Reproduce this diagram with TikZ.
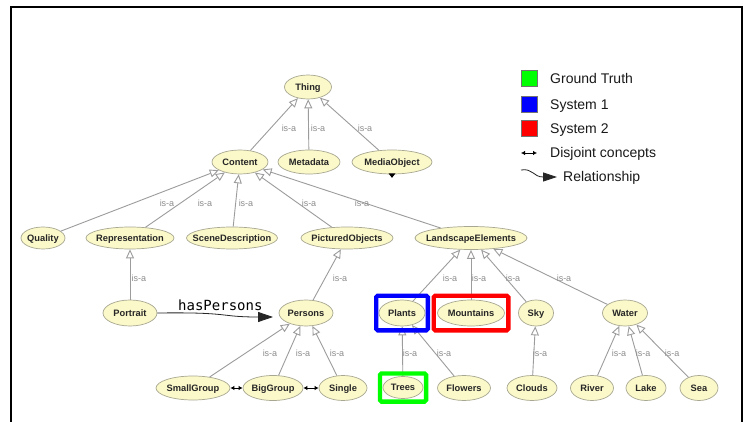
\documentclass[tikz,border=0pt]{standalone}
\usepackage{fontspec}
\setmainfont{Liberation Sans}
\newfontfamily\monof{DejaVu Sans Mono}
\usetikzlibrary{arrows.meta,shapes.geometric,fit}
\definecolor{cream}{HTML}{FBF8C9}
\definecolor{rim}{HTML}{A8A892}
\definecolor{edgegray}{HTML}{9C9C9C}
\definecolor{labgray}{HTML}{8C8C8C}
\definecolor{gtgreen}{HTML}{00FF00}
\definecolor{sysblue}{HTML}{0000FF}
\definecolor{sysred}{HTML}{FF0000}
\newcommand{\nm}[1]{\makebox[0pt][c]{\raisebox{-.36em}[0pt][0pt]{#1}}}
\begin{document}
\begin{tikzpicture}[x=1pt,y=-1pt,
  cls/.style={ellipse, draw=rim, fill=cream, line width=0.7pt, inner sep=0pt,
    minimum height=24pt, text=black!85, font=\fontsize{9.3}{10}\selectfont\bfseries},
  isa/.style={draw=edgegray, line width=0.9pt,
    -{Triangle[fill=white,length=9pt,width=8pt]}},
  lab/.style={text=labgray, font=\fontsize{9}{10}\selectfont, inner sep=0pt},
  disj/.style={{Latex[length=4pt,width=4.5pt]}-{Latex[length=4pt,width=4.5pt]}, line width=0.8pt, black},
  rel/.style={-{Triangle[length=15pt,width=10pt]}, line width=0.8pt, black!85},
  legtext/.style={font=\fontsize{14}{16}\selectfont, anchor=base west, inner sep=0pt, text=black!90},
  sq/.style={draw=black!55, line width=0.5pt, minimum size=16pt, inner sep=0pt},
  hbox/.style={line width=4.3pt, rounded corners=1.5pt, inner sep=0pt}
]
\useasboundingbox (0,0) rectangle (750,422);
\fill[white] (0,0) rectangle (750,422);
% frame
\draw[line width=1.6pt] (11,426) -- (11,7) -- (742,7) -- (742,426);

% nodes
\node[cls, minimum width=47pt] (Thing) at (308,87) {\nm{Thing}};
\node[cls, minimum width=56pt] (Content) at (240,162) {\nm{Content}};
\node[cls, minimum width=62pt] (Metadata) at (309,162) {\nm{Metadata}};
\node[cls, minimum width=80pt] (MediaObject) at (392,162) {\nm{MediaObject}};
\node[cls, minimum width=44pt, minimum height=22pt] (Quality) at (43,238) {\nm{Quality}};
\node[cls, minimum width=88pt, minimum height=22pt] (Representation) at (130,238) {\nm{Representation}};
\node[cls, minimum width=91pt, minimum height=22pt] (SceneDescription) at (232,238) {\nm{SceneDescription}};
\node[cls, minimum width=92pt, minimum height=22pt] (PicturedObjects) at (347,238) {\nm{PicturedObjects}};
\node[cls, minimum width=112pt, minimum height=23pt] (LandscapeElements) at (471,238) {\nm{LandscapeElements}};
\node[cls, minimum width=54pt, minimum height=26pt] (Portrait) at (130,313) {\nm{Portrait}};
\node[cls, minimum width=54pt, minimum height=26pt] (Persons) at (306,313) {\nm{Persons}};
\node[cls, minimum width=46pt, minimum height=26pt] (Plants) at (402,313) {\nm{Plants}};
\node[cls, minimum width=67pt, minimum height=26pt] (Mountains) at (471,313) {\nm{Mountains}};
\node[cls, minimum width=35pt, minimum height=26pt] (Sky) at (536,313) {\nm{Sky}};
\node[cls, minimum width=45pt, minimum height=26pt] (Water) at (625,313) {\nm{Water}};
\node[cls, minimum width=74pt, minimum height=24pt] (SmallGroup) at (193,388) {\nm{SmallGroup}};
\node[cls, minimum width=60pt, minimum height=25pt] (BigGroup) at (273,388) {\nm{BigGroup}};
\node[cls, minimum width=48pt, minimum height=25pt] (Single) at (343,388) {\nm{Single}};
\node[cls, minimum width=40pt, minimum height=22pt] (Trees) at (403,387.5) {\nm{Trees}};
\node[cls, minimum width=53pt, minimum height=25pt] (Flowers) at (464,388) {\nm{Flowers}};
\node[cls, minimum width=50pt, minimum height=25pt] (Clouds) at (532,388) {\nm{Clouds}};
\node[cls, minimum width=43pt, minimum height=25pt] (River) at (592,388) {\nm{River}};
\node[cls, minimum width=40pt, minimum height=25pt] (Lake) at (646,388) {\nm{Lake}};
\node[cls, minimum width=38pt, minimum height=25pt] (Sea) at (699,388) {\nm{Sea}};

% MediaObject expand marker
\fill[black] ([shift={(-3.5,-1)}]MediaObject.south) -- ++(7,0) -- ++(-3.5,4.5) -- cycle;

% is-a edges
\draw[isa] (Content) -- (Thing);
\draw[isa] (Metadata) -- (Thing);
\draw[isa] (MediaObject) -- (Thing);
\draw[isa] (Quality) -- (Content);
\draw[isa] (Representation) -- (Content);
\draw[isa] (SceneDescription) -- (Content);
\draw[isa] (PicturedObjects) -- (Content);
\draw[isa] (LandscapeElements) -- (Content);
\draw[isa] (Portrait) -- (Representation);
\draw[isa] (Persons) -- (PicturedObjects);
\draw[isa] (Plants) -- (LandscapeElements);
\draw[isa] (Mountains) -- (LandscapeElements);
\draw[isa] (Sky) -- (LandscapeElements);
\draw[isa] (Water) -- (LandscapeElements);
\draw[isa] (SmallGroup) -- (Persons);
\draw[isa] (BigGroup) -- (Persons);
\draw[isa] (Single) -- (Persons);
\draw[isa] (Trees) -- (Plants);
\draw[isa] (Flowers) -- (Plants);
\draw[isa] (Clouds) -- (Sky);
\draw[isa] (River) -- (Water);
\draw[isa] (Lake) -- (Water);
\draw[isa] (Sea) -- (Water);

% is-a labels
\node[lab] (l1) at (289,128) {is-a};
\node[lab] (l2) at (318,128) {is-a};
\node[lab] (l3) at (365,128) {is-a};
\node[lab] (l4) at (167,203) {is-a};
\node[lab] (l5) at (205,203) {is-a};
\node[lab] (l6) at (246,203) {is-a};
\node[lab] (l7) at (309,203) {is-a};
\node[lab] (l8) at (362,203) {is-a};
\node[lab] (l9) at (139,278) {is-a};
\node[lab] (l10) at (340,278) {is-a};
\node[lab] (l11) at (450,278) {is-a};
\node[lab] (l12) at (479,278) {is-a};
\node[lab] (l13) at (513,278) {is-a};
\node[lab] (l14) at (564,278) {is-a};
\node[lab] (l15) at (270,353) {is-a};
\node[lab] (l16) at (303,353) {is-a};
\node[lab] (l17) at (337,353) {is-a};
\node[lab] (l18) at (410,353) {is-a};
\node[lab] (l19) at (444,353) {is-a};
\node[lab] (l20) at (540,353) {is-a};
\node[lab] (l21) at (619,353) {is-a};
\node[lab] (l22) at (643,353) {is-a};
\node[lab] (l23) at (672,353) {is-a};

% disjoint
\draw[disj] (SmallGroup) -- (BigGroup);
\draw[disj] (BigGroup) -- (Single);

% relationship
\coordinate (hpTip) at (273,317);
\draw[rel] (Portrait.east) .. controls +(75,-1) and +(-55,0) .. (hpTip);
\node[anchor=base west, inner sep=0pt, font=\monof\fontsize{14}{16}\selectfont] (hasP) at (178,310) {hasPersons};

% highlight boxes
\node[hbox, draw=sysblue, fit=(Plants), inner xsep=2.5pt, inner ysep=4pt] (boxS1) {};
\node[hbox, draw=sysred, fit=(Mountains), inner xsep=3.5pt, inner ysep=4pt] (boxS2) {};
\node[hbox, draw=gtgreen, fit=(Trees), inner xsep=2.75pt, inner ysep=2.75pt] (boxGT) {};

% legend
\node[sq, fill=gtgreen] (sqGT) at (529,78.5) {};
\node[sq, fill=sysblue] (sqS1) at (529,104) {};
\node[sq, fill=sysred] (sqS2) at (529,128.5) {};
\node[legtext] (tGT) at (550,84) {Ground Truth};
\node[legtext] (tS1) at (550,110) {System 1};
\node[legtext] (tS2) at (550,134) {System 2};
\coordinate (djA) at (521,153);
\coordinate (djB) at (537,153);
\draw[disj] (djA) -- (djB);
\node[legtext] (tDJ) at (550,158) {Disjoint concepts};
\coordinate (rlA) at (521,170);
\coordinate (rlB) at (557,177);
\draw[rel, -{Triangle[length=14pt,width=9pt]}] (rlA) .. controls +(12,-2) and +(-24,0) .. (rlB);
\node[legtext] (tRL) at (563,182) {Relationship};
\end{tikzpicture}
\end{document}
